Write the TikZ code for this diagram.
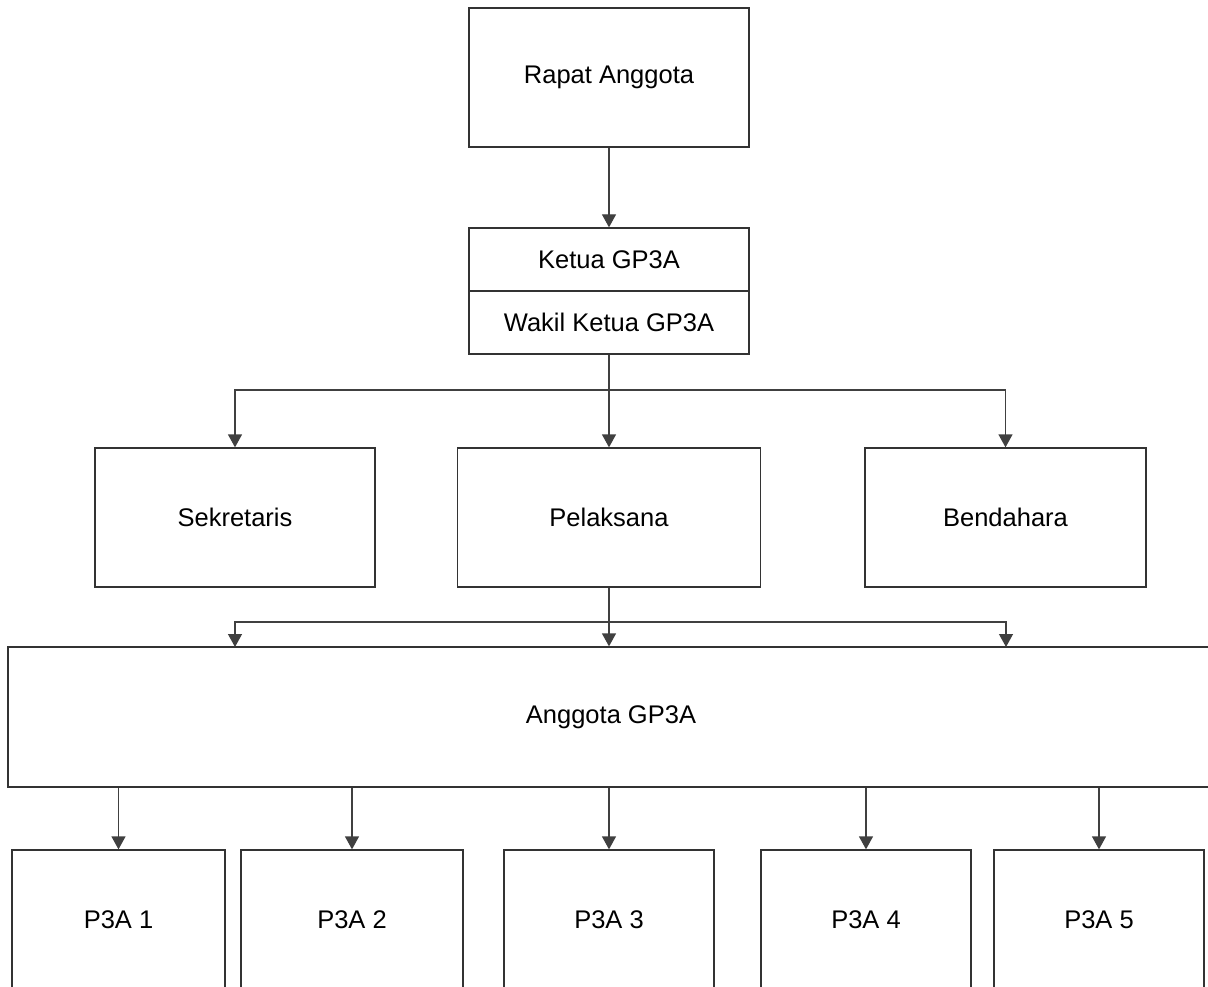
\documentclass[tikz,border=0pt]{standalone}
\usepackage{fontspec}
\setmainfont{Liberation Sans}
\usetikzlibrary{arrows.meta}
\begin{document}
\begin{tikzpicture}[x=1pt,y=-1pt,
  box/.style={draw=black!80,line width=1.3pt,fill=white,inner sep=0pt,
    font=\fontsize{25.5}{30}\selectfont,minimum height=139pt},
  conn/.style={draw=black!75,line width=1.3pt},
  arr/.style={conn,-{Triangle[width=14pt,length=13pt]}}]
\useasboundingbox (0,0) rectangle (1208,987);
\clip (0,0) rectangle (1208,987);
% nodes
\node[box,minimum width=280pt] (ra) at (609,77.5) {Rapat Anggota};
\node[box,minimum width=280pt,minimum height=63pt] (ket) at (609,259.5) {Ketua GP3A};
\node[box,minimum width=280pt,minimum height=63pt] (wak) at (609,322.5) {Wakil Ketua GP3A};
\node[box,minimum width=280pt] (sek) at (235,517.5) {Sekretaris};
\node[box,minimum width=303pt] (pel) at (609,517.5) {Pelaksana};
\node[box,minimum width=281pt] (ben) at (1005.5,517.5) {Bendahara};
\node[box,minimum width=1206pt,minimum height=140pt] (ang) at (611,717) {Anggota GP3A};
\node[box,minimum width=213pt] (p1) at (118.5,919.5) {P3A 1};
\node[box,minimum width=222pt] (p2) at (352,919.5) {P3A 2};
\node[box,minimum width=210pt] (p3) at (609,919.5) {P3A 3};
\node[box,minimum width=210pt] (p4) at (866,919.5) {P3A 4};
\node[box,minimum width=210pt] (p5) at (1099,919.5) {P3A 5};
% junctions
\coordinate (j1) at (609,390);
\coordinate (j2) at (609,622);
\coordinate (a1) at (235,647);
\coordinate (a3) at (1006,647);
% connectors
\draw[arr] (ra.south) -- (ket.north);
\draw[conn] (wak.south) -- (j1);
\draw[arr] (j1) -| (sek.north);
\draw[arr] (j1) -| (ben.north);
\draw[arr] (j1) -- (pel.north);
\draw[conn] (pel.south) -- (j2);
\draw[arr] (j2) -| (a1);
\draw[arr] (j2) -| (a3);
\draw[arr] (j2) -- (j2 |- ang.north);
\draw[arr] (p1 |- ang.south) -- (p1.north);
\draw[arr] (p2 |- ang.south) -- (p2.north);
\draw[arr] (p3 |- ang.south) -- (p3.north);
\draw[arr] (p4 |- ang.south) -- (p4.north);
\draw[arr] (p5 |- ang.south) -- (p5.north);
\end{tikzpicture}
\end{document}
